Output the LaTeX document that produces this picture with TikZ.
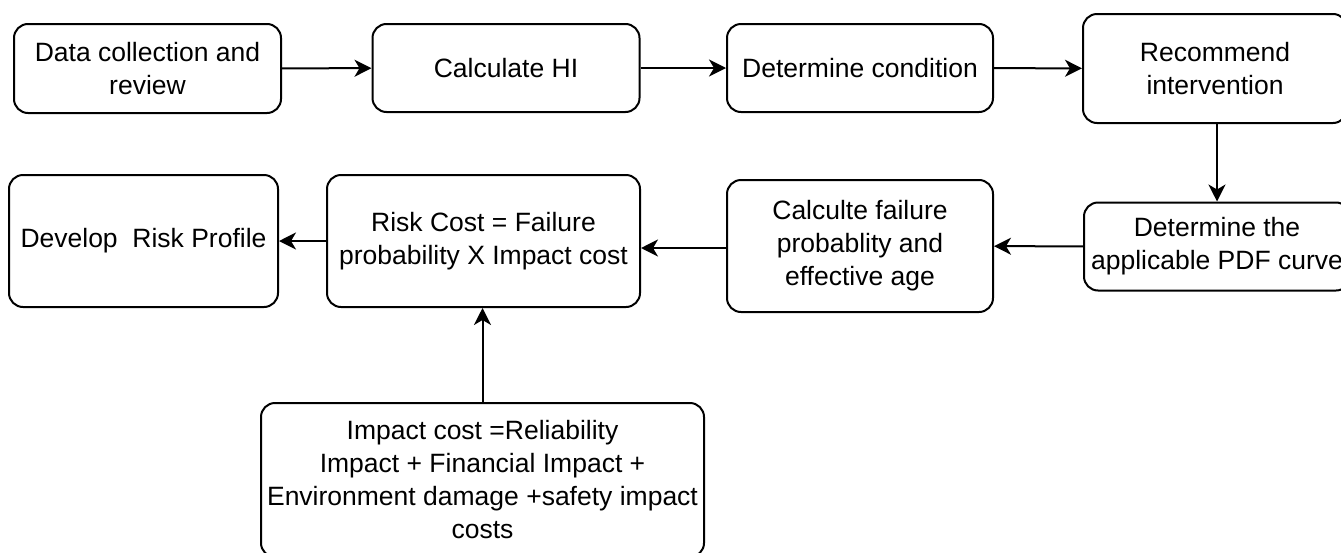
\documentclass[tikz,border=0pt]{standalone}
\usepackage{fontspec}
\setmainfont{Liberation Sans}
\usepackage{tikz}
\usetikzlibrary{arrows.meta}

\begin{document}
\begin{tikzpicture}[x=1pt, y=-1pt,
    box/.style={draw, line width=2pt, rounded corners=14pt, align=center, inner sep=0pt,
        font=\fontsize{26.5}{33}\selectfont},
    flow/.style={line width=2pt, -{Stealth[length=17pt, width=17pt, inset=5pt]}}]
    \useasboundingbox (0,0) rectangle (1341,552);

    % top row
    \node[box, minimum width=267pt, minimum height=89pt] (data) at (147.5,68.5) {Data collection and\\review};
    \node[box, minimum width=267pt, minimum height=88pt] (calchi) at (506,68) {Calculate HI};
    \node[box, minimum width=266pt, minimum height=88pt] (cond) at (860,68) {Determine condition};
    \node[box, minimum width=264pt, minimum height=109pt] (recom) at (1215,68.5) {Recommend\\intervention};

    % second row
    \node[box, minimum width=266pt, minimum height=88pt] (pdf) at (1217,246.5) {Determine the\\applicable PDF curve};
    \node[box, minimum width=266pt, minimum height=132pt] (failprob) at (860,246) {Calculte failure\\probablity and\\effective age};
    \node[box, minimum width=313pt, minimum height=132pt] (riskcost) at (483.5,241) {Risk Cost = Failure\\probability X Impact cost};
    \node[box, minimum width=269pt, minimum height=132pt] (profile) at (143.5,241) {Develop\ \ Risk Profile};

    % impact cost box
    \node[box, minimum width=443pt, minimum height=154pt] (impact) at (482.5,480) {Impact cost =Reliability\\Impact + Financial Impact +\\Environment damage +safety impact\\costs};

    % arrows
    \draw[flow] (data) -- (calchi);
    \draw[flow] (calchi) -- (cond);
    \draw[flow] (cond) -- (recom);
    \draw[flow] (recom.south -| pdf.north) -- (pdf.north);
    \draw[flow] (pdf) -- (failprob);
    \draw[flow] ([yshift=-2pt]failprob.west) -- ([yshift=-2pt]failprob.west -| riskcost.east);
    \draw[flow] (riskcost) -- (profile);
    \draw[flow] (impact.north) -- (impact.north |- riskcost.south);
\end{tikzpicture}
\end{document}
